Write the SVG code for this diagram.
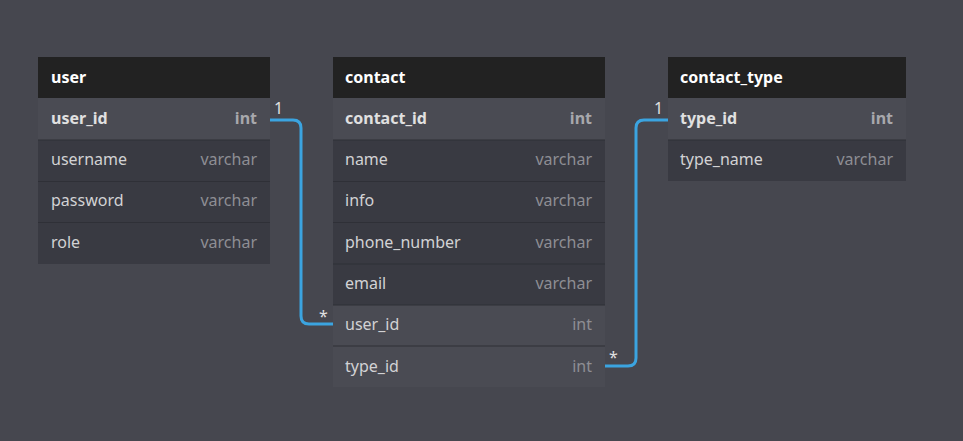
<svg xmlns="http://www.w3.org/2000/svg" width="963" height="441" viewBox="0 0 963 441">
<style>
text{font-family:"Noto Sans","Open Sans","DejaVu Sans",sans-serif;font-size:16px}
.hd{fill:#222222}
.hdt{fill:#ffffff;font-weight:bold}
.r{fill:#393a42}
.pk{fill:#4a4b53}
.sep{stroke:#2f3037;stroke-width:1}
.pkt{fill:#e0e0e0;font-weight:bold}
.pktt{fill:#a8a8ac;font-weight:bold;text-anchor:end}
.ft{fill:#d2d2d4}
.tt{fill:#8e8e94;text-anchor:end}
.c{fill:none;stroke:#3ba4e0;stroke-width:3}
.lb{fill:#e0e0e0;font-size:16px}
</style>
<rect width="963" height="441" fill="#46474f"/>
<g id="user">
<rect class="hd" x="38" y="57" width="232" height="41"/>
<text class="hdt" x="51" y="83">user</text>
<rect class="pk" x="38" y="98" width="232" height="42"/>
<rect class="r" x="38" y="140" width="232" height="124"/>
<line class="sep" x1="38" y1="140" x2="270" y2="140"/>
<line class="sep" x1="38" y1="181.5" x2="270" y2="181.5"/>
<line class="sep" x1="38" y1="222.5" x2="270" y2="222.5"/>
<text class="pkt" x="51" y="124">user_id</text><text class="pktt" x="257" y="124">int</text>
<text class="ft" x="51" y="165">username</text><text class="tt" x="257" y="165">varchar</text>
<text class="ft" x="51" y="206">password</text><text class="tt" x="257" y="206">varchar</text>
<text class="ft" x="51" y="248">role</text><text class="tt" x="257" y="248">varchar</text>
</g>
<g id="contact">
<rect class="hd" x="333" y="57" width="272" height="41"/>
<text class="hdt" x="345" y="83">contact</text>
<rect class="pk" x="333" y="98" width="272" height="42"/>
<rect class="r" x="333" y="140" width="272" height="165"/>
<rect class="pk" x="333" y="305" width="272" height="82"/>
<line class="sep" x1="333" y1="140" x2="605" y2="140"/>
<line class="sep" x1="333" y1="181.5" x2="605" y2="181.5"/>
<line class="sep" x1="333" y1="222.5" x2="605" y2="222.5"/>
<line class="sep" x1="333" y1="264" x2="605" y2="264"/>
<line class="sep" x1="333" y1="305" x2="605" y2="305"/>
<line class="sep" x1="333" y1="346" x2="605" y2="346"/>
<text class="pkt" x="345" y="124">contact_id</text><text class="pktt" x="592" y="124">int</text>
<text class="ft" x="345" y="165">name</text><text class="tt" x="592" y="165">varchar</text>
<text class="ft" x="345" y="206">info</text><text class="tt" x="592" y="206">varchar</text>
<text class="ft" x="345" y="248">phone_number</text><text class="tt" x="592" y="248">varchar</text>
<text class="ft" x="345" y="289">email</text><text class="tt" x="592" y="289">varchar</text>
<text class="ft" x="345" y="330">user_id</text><text class="tt" x="592" y="330">int</text>
<text class="ft" x="345" y="372">type_id</text><text class="tt" x="592" y="372">int</text>
</g>
<g id="contact_type">
<rect class="hd" x="668" y="57" width="238" height="41"/>
<text class="hdt" x="680" y="83">contact_type</text>
<rect class="pk" x="668" y="98" width="238" height="42"/>
<rect class="r" x="668" y="140" width="238" height="41"/>
<line class="sep" x1="668" y1="140" x2="906" y2="140"/>
<text class="pkt" x="680" y="124">type_id</text><text class="pktt" x="893" y="124">int</text>
<text class="ft" x="680" y="165">type_name</text><text class="tt" x="893" y="165">varchar</text>
</g>
<g id="connectors">
<path class="c" d="M270,120 H293 Q301,120 301,128 V316 Q301,324 309,324 H333"/>
<path class="c" d="M605,366 H628 Q636,366 636,358 V128 Q636,120 644,120 H668"/>
<text class="lb" x="274" y="114">1</text>
<text class="lb" x="319" y="322">*</text>
<text class="lb" x="654" y="114">1</text>
<text class="lb" x="609" y="363">*</text>
</g>
</svg>
